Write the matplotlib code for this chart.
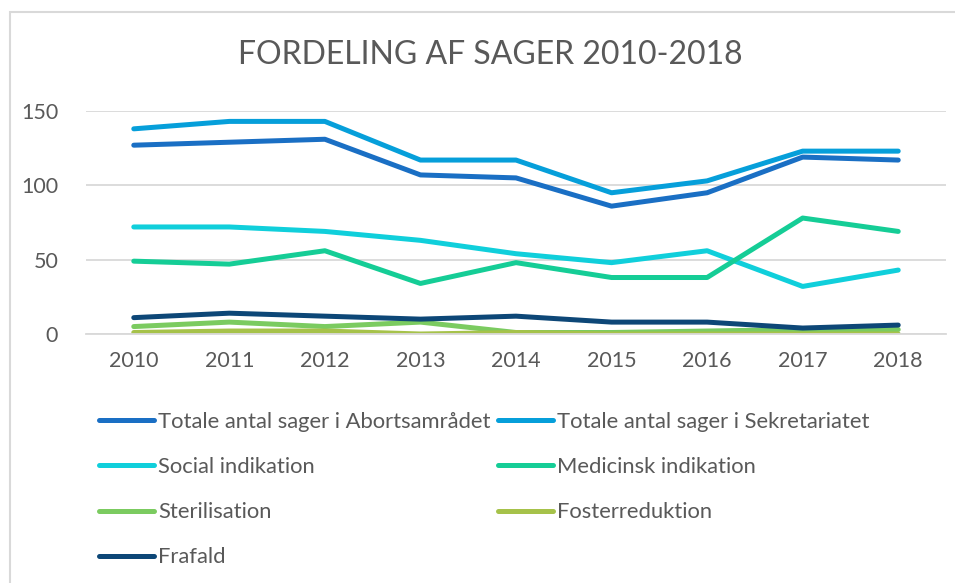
import matplotlib
matplotlib.use('Agg')
import matplotlib.pyplot as plt
from matplotlib.patches import Rectangle

# data
years = ['2010', '2011', '2012', '2013', '2014', '2015', '2016', '2017', '2018']
abortsamraadet = [127, 129, 131, 107, 105, 86, 95, 119, 117]
sekretariatet = [138, 143, 143, 117, 117, 95, 103, 123, 123]
social = [72, 72, 69, 63, 54, 48, 56, 32, 43]
medicinsk = [49, 47, 56, 34, 48, 38, 38, 78, 69]
sterilisation = [5, 8, 5, 8, 1, 1, 2, 3, 3]
fosterreduktion = [1, 2, 2, 0, 1, 0, 0, 0, 0]
frafald = [11, 14, 12, 10, 12, 8, 8, 4, 6]

labels = ['Totale antal sager i Abortsamrådet', 'Totale antal sager i Sekretariatet',
          'Social indikation', 'Medicinsk indikation', 'Sterilisation',
          'Fosterreduktion', 'Frafald']
series = [abortsamraadet, sekretariatet, social, medicinsk, sterilisation,
          fosterreduktion, frafald]
colors = ['#1a6fc4', '#069fda', '#10cfdb', '#15cd96', '#7bcb60', '#a6c24a', '#0d4777']

plt.rcParams['font.family'] = ['Lato', 'DejaVu Sans']
text_col = '#595959'
grid_col = '#d9d9d9'

W, H = 955, 583
fig = plt.figure(figsize=(W / 100, H / 100), dpi=100)

# chart border (only left/top edges fall inside the image)
fig.patches.append(Rectangle((10 / W, -0.1), 1.2, 1 - 12 / H + 0.1, transform=fig.transFigure,
                             fill=False, edgecolor=grid_col, linewidth=1.5))

ax = fig.add_axes([86 / W, 1 - 334 / H, (946 - 86) / W, (334 - 111) / H])
x = list(range(len(years)))
handles = []
for vals, lab, c in zip(series, labels, colors):
    h, = ax.plot(x, vals, color=c, linewidth=3.6, solid_capstyle='round',
                 solid_joinstyle='round', label=lab)
    handles.append(h)

ax.set_xlim(-0.5, len(years) - 0.5)
ax.set_ylim(0, 150)
ax.set_yticks([0, 50, 100, 150])
ax.set_xticks(x)
ax.set_xticklabels(years)
ax.yaxis.grid(True, color=grid_col, linewidth=1.3)
ax.set_axisbelow(True)
for s in ['top', 'right', 'left']:
    ax.spines[s].set_visible(False)
ax.spines['bottom'].set_color(grid_col)
ax.spines['bottom'].set_linewidth(1.3)
ax.tick_params(length=0, labelsize=15.5, colors=text_col, pad=12)
ax.tick_params(axis='y', pad=20)

fig.text(490 / W, 1 - 55 / H, 'FORDELING AF SAGER 2010-2018', ha='center', va='center',
         fontsize=23, color=text_col)

# legend filled row-wise in two columns
order = [0, 2, 4, 6, 1, 3, 5]
leg = fig.legend([handles[i] for i in order], [labels[i] for i in order], ncol=2,
                 loc='upper left', bbox_to_anchor=(90 / W, 1 - 403 / H), frameon=False,
                 fontsize=15.8, handlelength=2.5, handletextpad=0.2, columnspacing=0.35,
                 labelspacing=1.15, borderaxespad=0)
for t in leg.get_texts():
    t.set_color(text_col)

fig.savefig('out.png', dpi=100)
